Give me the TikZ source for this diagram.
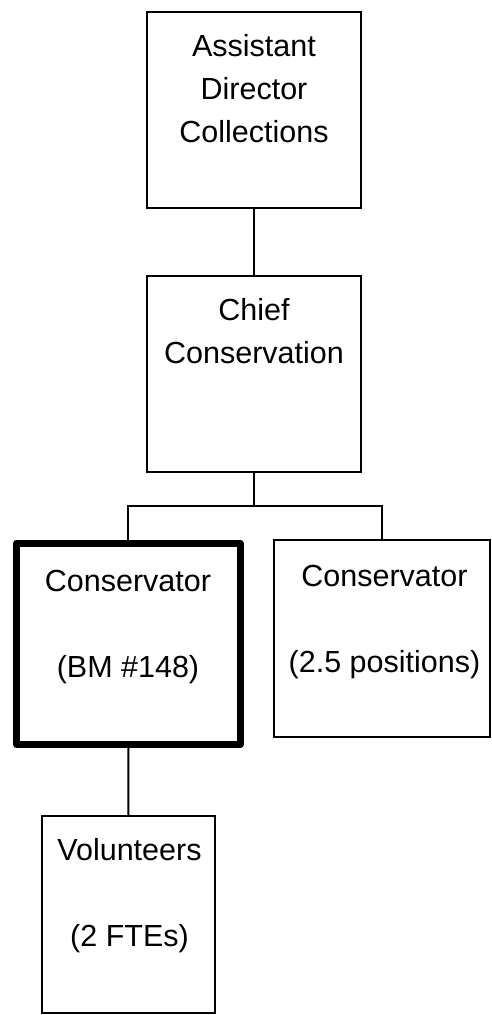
\documentclass[tikz,border=0pt]{standalone}
\usepackage{fontspec}
\setmainfont{Liberation Sans}
\usetikzlibrary{calc}

\tikzset{
	orgbox/.style={draw=black, line width=2pt, inner sep=0pt},
	keybox/.style={orgbox, line width=7pt, line join=round},
	boxtext/.style={anchor=base, align=center, inner sep=0pt,
		font=\fontsize{30.5}{43}\selectfont}
}

\begin{document}
\begin{tikzpicture}[x=1pt, y=-1pt]
	% Fix the page size
	\useasboundingbox (0,0) rectangle (491,1015);
	
	% Draw the boxes
	\node[orgbox, minimum width=214pt, minimum height=196pt] (adc) at (254,110) {};
	\node[orgbox, minimum width=214pt, minimum height=196pt] (chief) at (254,374) {};
	\node[keybox, minimum width=223.5pt, minimum height=201.5pt] (cons) at (128.25,643.75) {};
	\node[orgbox, minimum width=216pt, minimum height=197pt] (conspos) at (382,638.5) {};
	\node[orgbox, minimum width=173pt, minimum height=197pt] (vol) at (128.5,914.5) {};
	
	% Label the boxes (base = last line)
	\node[boxtext] (adctext) at (254,142) {Assistant\\Director\\Collections};
	\node[boxtext] (chieftext) at (254,363) {Chief\\Conservation};
	\node[boxtext] (constext) at (128,677) {Conservator\\[43pt](BM \#148)};
	\node[boxtext] (conspostext) at (384.5,672) {Conservator\\[43pt](2.5 positions)};
	\node[boxtext] (voltext) at (129.5,946) {Volunteers\\[43pt](2 FTEs)};
	
	% Draw the connectors
	\coordinate (split) at (254,506);
	\draw[line width=2pt] (adc.south) -- (chief.north);
	\draw[line width=2pt] (chief.south) -- (split);
	\draw[line width=2pt] (split) -| (cons.north);
	\draw[line width=2pt] (split) -| (conspos.north);
	\draw[line width=2pt] (cons.south) -- (vol.north);
\end{tikzpicture}
\end{document}
